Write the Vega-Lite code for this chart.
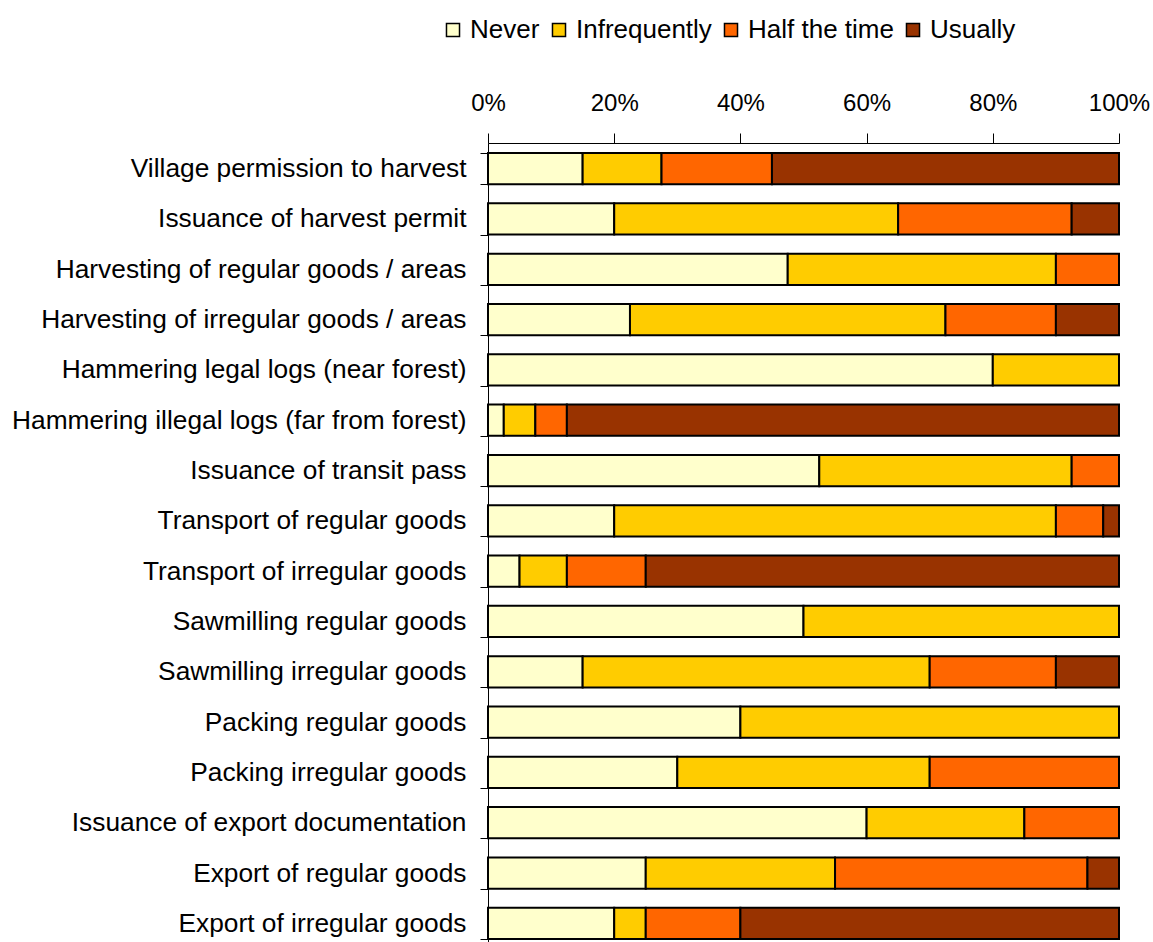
{
  "$schema": "https://vega.github.io/schema/vega-lite/v6.json",
  "autosize": "none",
  "padding": {"left": 488, "top": 143, "right": 34, "bottom": 0},
  "width": 631,
  "height": 806,
  "background": "white",
  "config": {
    "view": {"stroke": null},
    "font": "Liberation Sans",
    "axis": {"labelColor": "black", "domainColor": "black", "tickColor": "black", "labelFont": "Liberation Sans"},
    "legend": {"labelFont": "Liberation Sans", "labelColor": "black"}
  },
  "data": {
    "values": [
      {"task": "Village permission to harvest", "level": "Never", "rank": 1, "pct": 15},
      {"task": "Village permission to harvest", "level": "Infrequently", "rank": 2, "pct": 12.5},
      {"task": "Village permission to harvest", "level": "Half the time", "rank": 3, "pct": 17.5},
      {"task": "Village permission to harvest", "level": "Usually", "rank": 4, "pct": 55},
      {"task": "Issuance of harvest permit", "level": "Never", "rank": 1, "pct": 20},
      {"task": "Issuance of harvest permit", "level": "Infrequently", "rank": 2, "pct": 45},
      {"task": "Issuance of harvest permit", "level": "Half the time", "rank": 3, "pct": 27.5},
      {"task": "Issuance of harvest permit", "level": "Usually", "rank": 4, "pct": 7.5},
      {"task": "Harvesting of regular goods / areas", "level": "Never", "rank": 1, "pct": 47.5},
      {"task": "Harvesting of regular goods / areas", "level": "Infrequently", "rank": 2, "pct": 42.5},
      {"task": "Harvesting of regular goods / areas", "level": "Half the time", "rank": 3, "pct": 10},
      {"task": "Harvesting of irregular goods / areas", "level": "Never", "rank": 1, "pct": 22.5},
      {"task": "Harvesting of irregular goods / areas", "level": "Infrequently", "rank": 2, "pct": 50},
      {"task": "Harvesting of irregular goods / areas", "level": "Half the time", "rank": 3, "pct": 17.5},
      {"task": "Harvesting of irregular goods / areas", "level": "Usually", "rank": 4, "pct": 10},
      {"task": "Hammering legal logs (near forest)", "level": "Never", "rank": 1, "pct": 80},
      {"task": "Hammering legal logs (near forest)", "level": "Infrequently", "rank": 2, "pct": 20},
      {"task": "Hammering illegal logs (far from forest)", "level": "Never", "rank": 1, "pct": 2.5},
      {"task": "Hammering illegal logs (far from forest)", "level": "Infrequently", "rank": 2, "pct": 5},
      {"task": "Hammering illegal logs (far from forest)", "level": "Half the time", "rank": 3, "pct": 5},
      {"task": "Hammering illegal logs (far from forest)", "level": "Usually", "rank": 4, "pct": 87.5},
      {"task": "Issuance of transit pass", "level": "Never", "rank": 1, "pct": 52.5},
      {"task": "Issuance of transit pass", "level": "Infrequently", "rank": 2, "pct": 40},
      {"task": "Issuance of transit pass", "level": "Half the time", "rank": 3, "pct": 7.5},
      {"task": "Transport of regular goods", "level": "Never", "rank": 1, "pct": 20},
      {"task": "Transport of regular goods", "level": "Infrequently", "rank": 2, "pct": 70},
      {"task": "Transport of regular goods", "level": "Half the time", "rank": 3, "pct": 7.5},
      {"task": "Transport of regular goods", "level": "Usually", "rank": 4, "pct": 2.5},
      {"task": "Transport of irregular goods", "level": "Never", "rank": 1, "pct": 5},
      {"task": "Transport of irregular goods", "level": "Infrequently", "rank": 2, "pct": 7.5},
      {"task": "Transport of irregular goods", "level": "Half the time", "rank": 3, "pct": 12.5},
      {"task": "Transport of irregular goods", "level": "Usually", "rank": 4, "pct": 75},
      {"task": "Sawmilling regular goods", "level": "Never", "rank": 1, "pct": 50},
      {"task": "Sawmilling regular goods", "level": "Infrequently", "rank": 2, "pct": 50},
      {"task": "Sawmilling irregular goods", "level": "Never", "rank": 1, "pct": 15},
      {"task": "Sawmilling irregular goods", "level": "Infrequently", "rank": 2, "pct": 55},
      {"task": "Sawmilling irregular goods", "level": "Half the time", "rank": 3, "pct": 20},
      {"task": "Sawmilling irregular goods", "level": "Usually", "rank": 4, "pct": 10},
      {"task": "Packing regular goods", "level": "Never", "rank": 1, "pct": 40},
      {"task": "Packing regular goods", "level": "Infrequently", "rank": 2, "pct": 60},
      {"task": "Packing irregular goods", "level": "Never", "rank": 1, "pct": 30},
      {"task": "Packing irregular goods", "level": "Infrequently", "rank": 2, "pct": 40},
      {"task": "Packing irregular goods", "level": "Half the time", "rank": 3, "pct": 30},
      {"task": "Issuance of export documentation", "level": "Never", "rank": 1, "pct": 60},
      {"task": "Issuance of export documentation", "level": "Infrequently", "rank": 2, "pct": 25},
      {"task": "Issuance of export documentation", "level": "Half the time", "rank": 3, "pct": 15},
      {"task": "Export of regular goods", "level": "Never", "rank": 1, "pct": 25},
      {"task": "Export of regular goods", "level": "Infrequently", "rank": 2, "pct": 30},
      {"task": "Export of regular goods", "level": "Half the time", "rank": 3, "pct": 40},
      {"task": "Export of regular goods", "level": "Usually", "rank": 4, "pct": 5},
      {"task": "Export of irregular goods", "level": "Never", "rank": 1, "pct": 20},
      {"task": "Export of irregular goods", "level": "Infrequently", "rank": 2, "pct": 5},
      {"task": "Export of irregular goods", "level": "Half the time", "rank": 3, "pct": 15},
      {"task": "Export of irregular goods", "level": "Usually", "rank": 4, "pct": 60}
    ]
  },
  "mark": {"type": "bar", "stroke": "black", "strokeWidth": 2},
  "encoding": {
    "y": {
      "field": "task",
      "type": "nominal",
      "sort": null,
      "scale": {"paddingInner": 0.38, "paddingOuter": 0.2},
      "axis": {
        "title": null,
        "labelFontSize": 26.3,
        "labelPadding": 14,
        "tickSize": 8,
        "tickBand": "extent",
        "domainColor": "black",
        "labelLimit": 600
      }
    },
    "x": {
      "field": "pct",
      "type": "quantitative",
      "stack": "zero",
      "scale": {"domain": [0, 100], "nice": false},
      "axis": {
        "orient": "top",
        "title": null,
        "values": [0, 20, 40, 60, 80, 100],
        "labelExpr": "datum.value + '%'",
        "labelFontSize": 24,
        "labelPadding": 18,
        "labelFlush": false,
        "labelOverlap": false,
        "tickSize": 10,
        "grid": false
      }
    },
    "order": {"field": "rank", "type": "quantitative", "sort": "ascending"},
    "color": {
      "field": "level",
      "type": "nominal",
      "scale": {
        "domain": ["Never", "Infrequently", "Half the time", "Usually"],
        "range": ["#FFFFCC", "#FFCC00", "#FF6600", "#993300"]
      },
      "legend": {
        "title": null,
        "orient": "none",
        "direction": "horizontal",
        "legendX": -48,
        "legendY": -126,
        "padding": 0,
        "symbolType": "square",
        "symbolSize": 170,
        "symbolStrokeColor": "black",
        "symbolStrokeWidth": 1.5,
        "symbolOpacity": 1,
        "labelFontSize": 26,
        "labelOffset": 4,
        "columnPadding": 6
      }
    }
  }
}
